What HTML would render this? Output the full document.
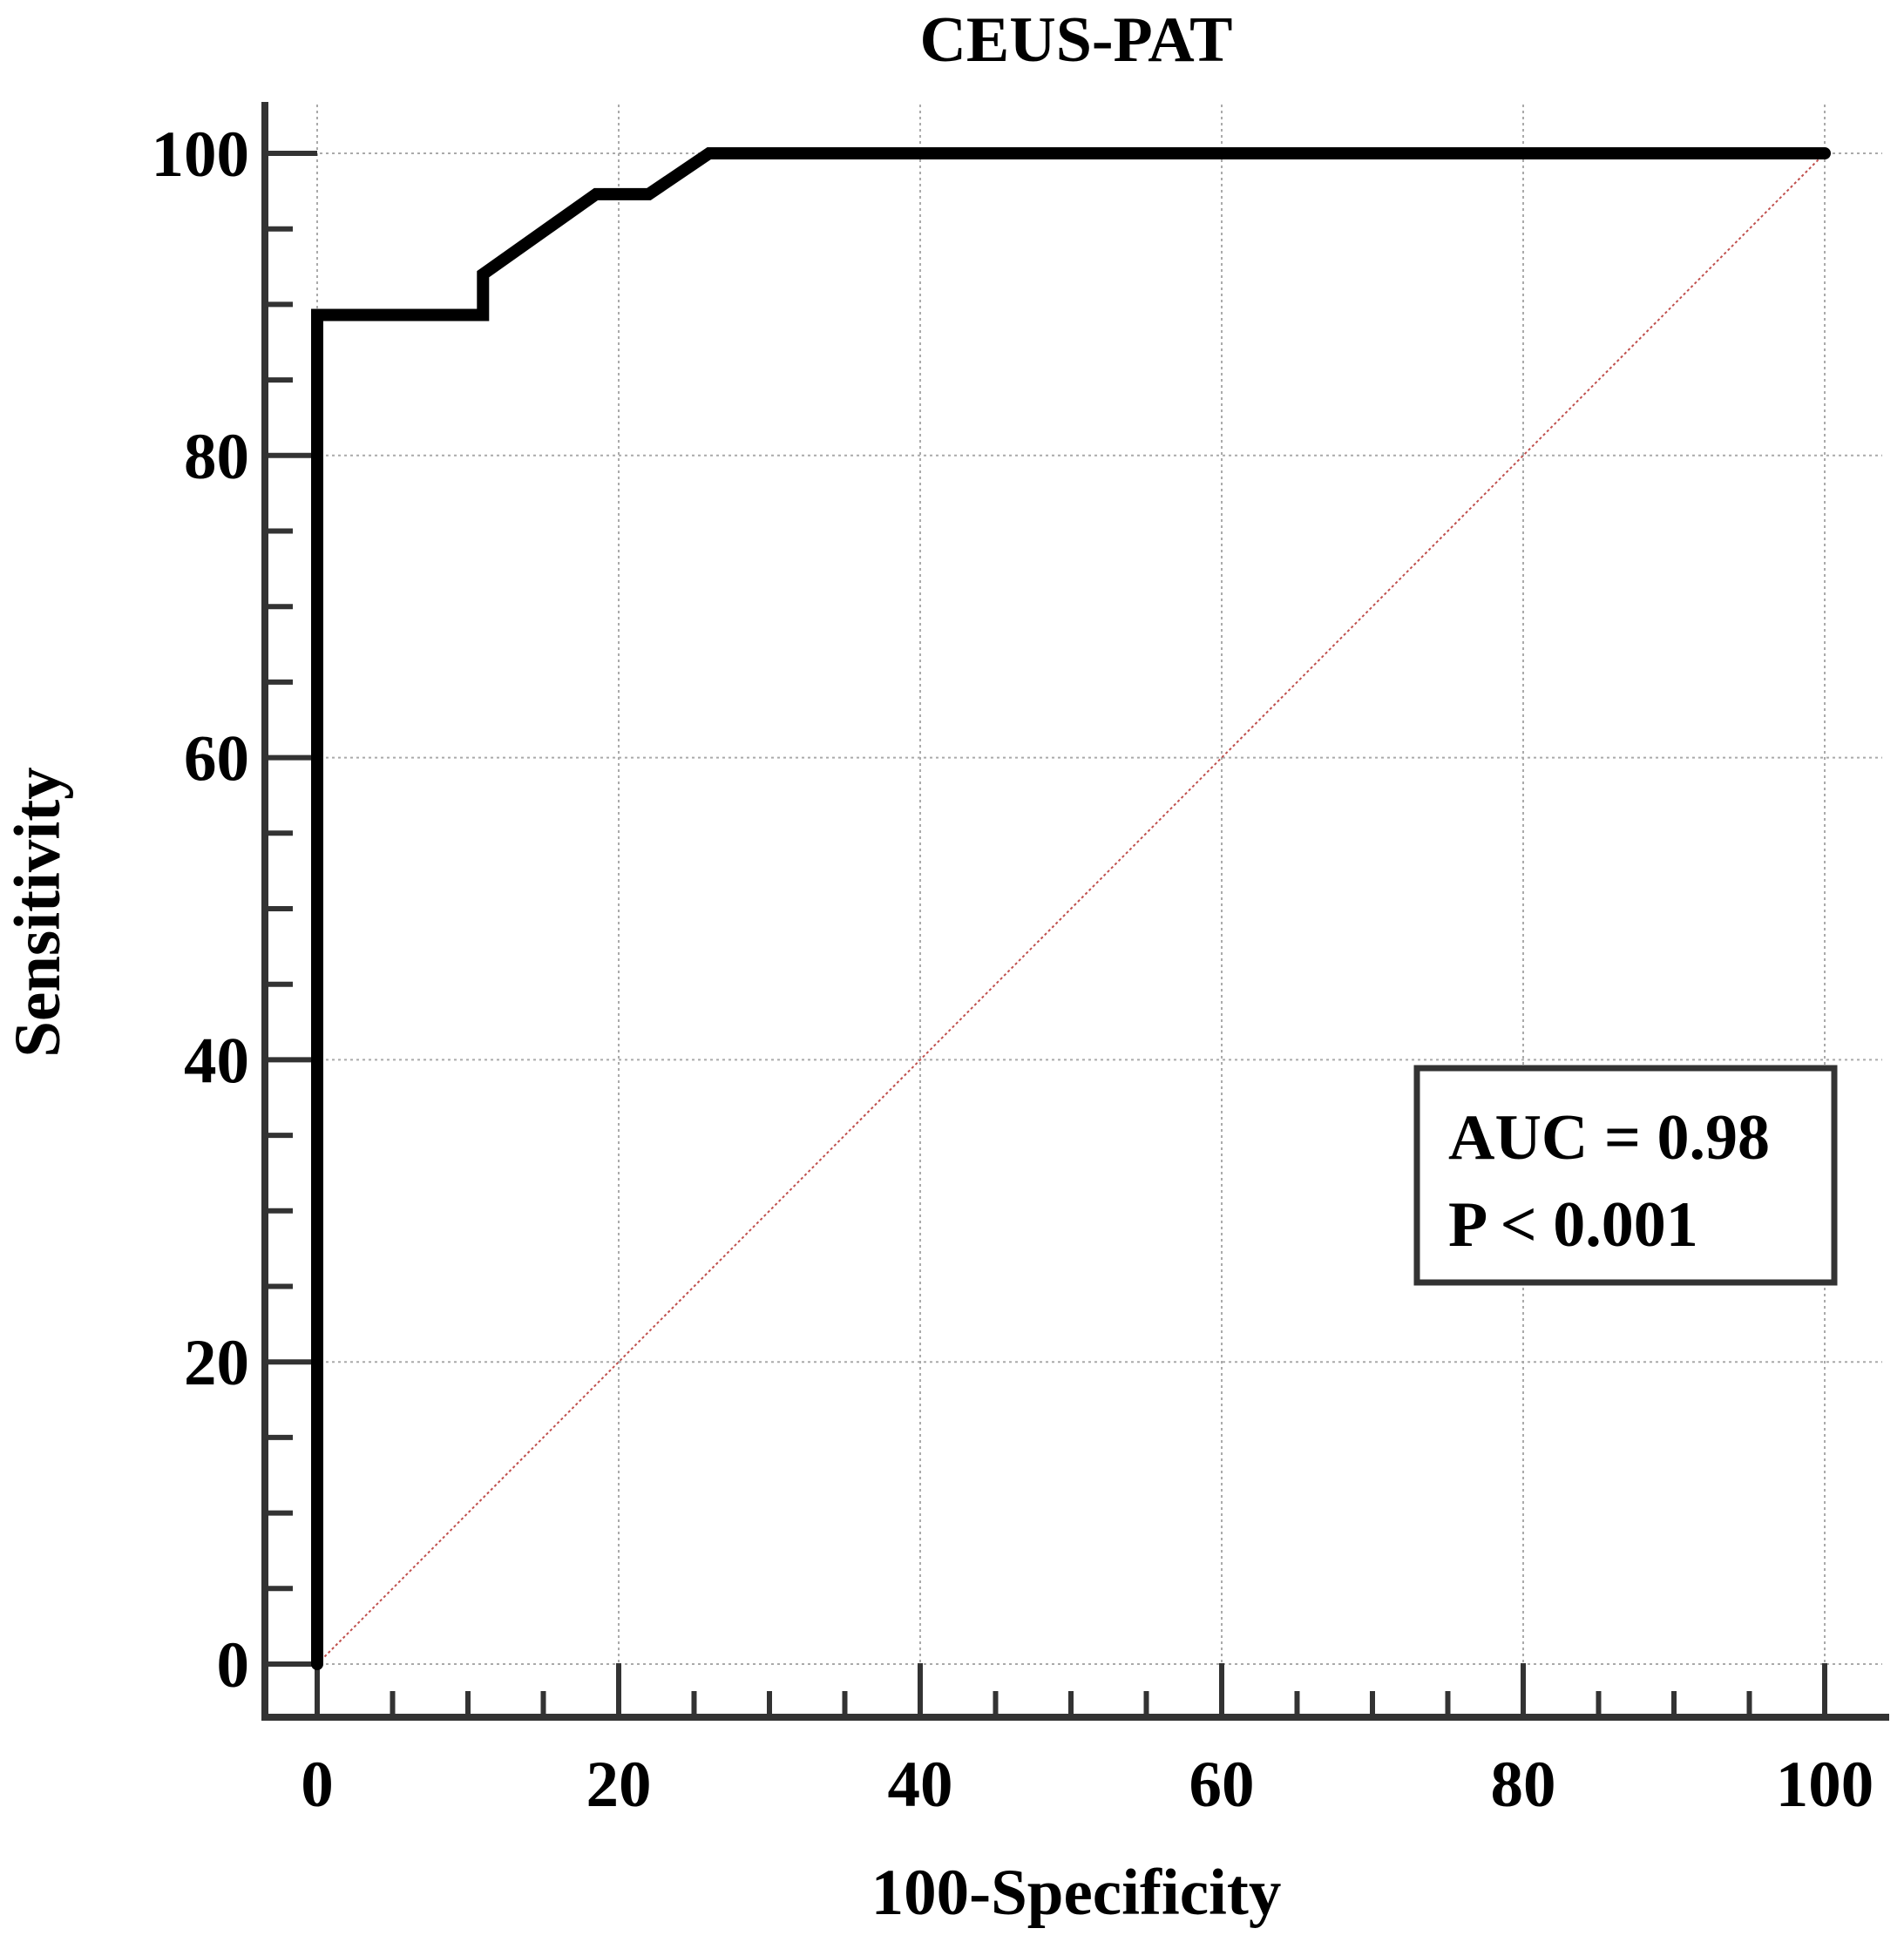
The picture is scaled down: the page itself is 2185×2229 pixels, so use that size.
<!DOCTYPE html>
<html><head><meta charset="utf-8"><style>
html,body{margin:0;padding:0;background:#fff;}
svg{display:block;font-family:"Liberation Serif",serif;font-weight:bold;}
</style></head><body>
<svg id="chart" width="2185" height="2229" viewBox="0 0 2185 2229">
<text x="1235" y="70" text-anchor="middle" font-size="74">CEUS-PAT</text>
<g id="grid"></g>
<g id="axes"></g>
<g id="series"></g>
<text x="1235" y="2197" text-anchor="middle" font-size="75">100-Specificity</text>
<text transform="translate(68,1047) rotate(-90)" text-anchor="middle" font-size="75">Sensitivity</text>
<g>
<rect x="1626" y="1226" width="479" height="246" fill="#fff" stroke="#333" stroke-width="7"/>
<text x="1662" y="1330" font-size="74">AUC = 0.98</text>
<text x="1662" y="1430" font-size="74">P &lt; 0.001</text>
</g>
</svg>
<script>
const rocX = [0, 0, 11, 11, 18.5, 22, 26, 100];
const rocY = [0, 89.3, 89.3, 92, 97.3, 97.3, 100, 100];
const diagX = [0, 100];
const diagY = [0, 100];
const xTicks = [0, 20, 40, 60, 80, 100];
const yTicks = [0, 20, 40, 60, 80, 100];
const xTickLabels = ["0", "20", "40", "60", "80", "100"];
const yTickLabels = ["0", "20", "40", "60", "80", "100"];

const NS = "http://www.w3.org/2000/svg";
const X0 = 364, X1 = 2094, Y0 = 1910, Y1 = 176;
const AX = 304, AY = 1971;
const sx = v => X0 + (X1 - X0) * v / 100;
const sy = v => Y0 - (Y0 - Y1) * v / 100;
function mk(tag, attrs, parent) {
  const e = document.createElementNS(NS, tag);
  for (const k in attrs) e.setAttribute(k, attrs[k]);
  parent.appendChild(e);
  return e;
}
const grid = document.getElementById('grid');
const axes = document.getElementById('axes');
const series = document.getElementById('series');

xTicks.forEach(v => {
  const l = mk('line', {x1: sx(v), x2: sx(v), y1: 120, y2: AY, stroke: '#aaa', 'stroke-width': 2, 'stroke-dasharray': '3,4'}, grid);
  
  
});
yTicks.forEach(v => {
  const l = mk('line', {x1: AX, x2: 2160, y1: sy(v), y2: sy(v), stroke: '#aaa', 'stroke-width': 2, 'stroke-dasharray': '3,4'}, grid);
  
  
});

mk('line', {x1: AX, x2: AX, y1: 117, y2: AY + 4, stroke: '#333', 'stroke-width': 8}, axes);
mk('line', {x1: AX - 4, x2: 2168, y1: AY, y2: AY, stroke: '#333', 'stroke-width': 8}, axes);
for (let v = 0; v <= 100; v += 5) {
  const major = v % 20 === 0;
  const t = mk('line', {x1: sx(v), x2: sx(v), y1: AY, y2: major ? AY - 62 : AY - 30, stroke: '#333', 'stroke-width': 6}, axes);
  
  
  const u = mk('line', {x1: AX, x2: major ? X0 : AX + 32, y1: sy(v), y2: sy(v), stroke: '#333', 'stroke-width': 6}, axes);
  
  
}
xTicks.forEach((v, i) => {
  const t = mk('text', {x: sx(v), y: 2073, 'text-anchor': 'middle', 'font-size': 75}, axes);
  t.textContent = xTickLabels[i];
  
  
});
yTicks.forEach((v, i) => {
  const t = mk('text', {x: 286, y: sy(v) + 26, 'text-anchor': 'end', 'font-size': 75}, axes);
  t.textContent = yTickLabels[i];
  
  
});

const d = mk('line', {x1: sx(diagX[0]), y1: sy(diagY[0]), x2: sx(diagX[1]), y2: sy(diagY[1]), stroke: '#c0504d', 'stroke-width': 2, 'stroke-dasharray': '3,3'}, series);



const pts = rocX.map((x, i) => sx(x) + ',' + sy(rocY[i])).join(' ');
const p = mk('polyline', {points: pts, fill: 'none', stroke: '#000', 'stroke-width': 14, 'stroke-linejoin': 'miter', 'stroke-linecap': 'round'}, series);


</script>
</body></html>
